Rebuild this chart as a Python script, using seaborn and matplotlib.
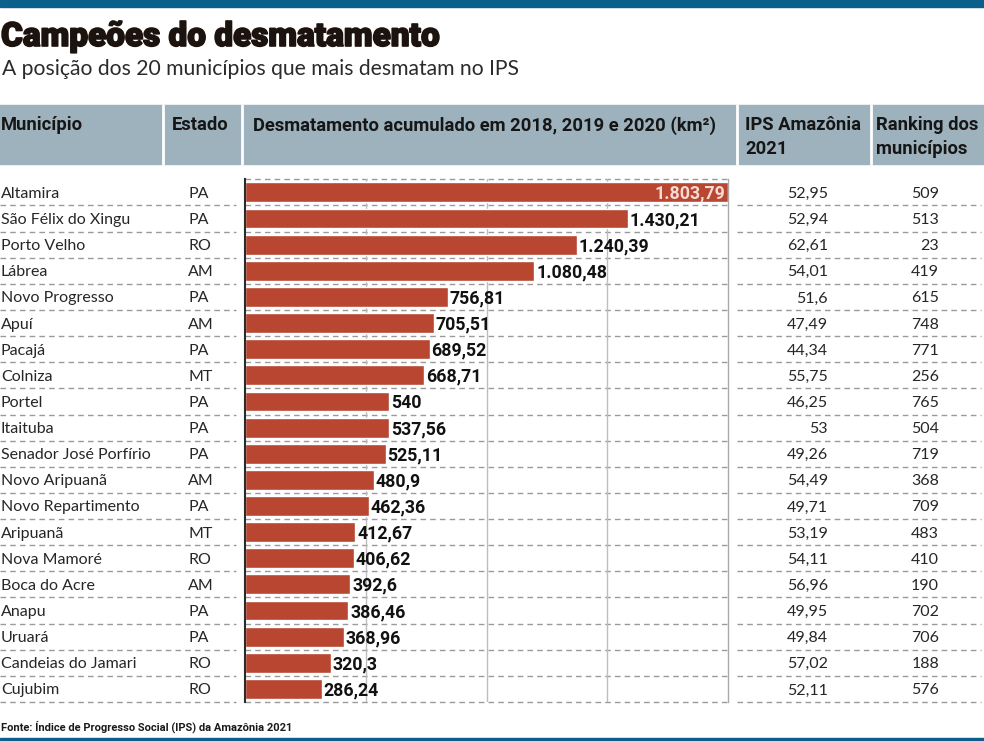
import matplotlib.pyplot as plt
import seaborn as sns
import pandas as pd
from matplotlib import font_manager
from matplotlib import patheffects
from matplotlib.patches import Rectangle

sns.set_style("white")

available = {f.name for f in font_manager.fontManager.ttflist}
light = "Lato" if "Lato" in available else "DejaVu Sans"
bold = "Roboto" if "Roboto" in available else "DejaVu Sans"

municipios = ["Altamira", "São Félix do Xingu", "Porto Velho", "Lábrea", "Novo Progresso",
              "Apuí", "Pacajá", "Colniza", "Portel", "Itaituba",
              "Senador José Porfírio", "Novo Aripuanã", "Novo Repartimento", "Aripuanã", "Nova Mamoré",
              "Boca do Acre", "Anapu", "Uruará", "Candeias do Jamari", "Cujubim"]
estados = ["PA", "PA", "RO", "AM", "PA", "AM", "PA", "MT", "PA", "PA",
           "PA", "AM", "PA", "MT", "RO", "AM", "PA", "PA", "RO", "RO"]
desmatamento = [1803.79, 1430.21, 1240.39, 1080.48, 756.81, 705.51, 689.52, 668.71, 540, 537.56,
                525.11, 480.9, 462.36, 412.67, 406.62, 392.6, 386.46, 368.96, 320.3, 286.24]
ips = [52.95, 52.94, 62.61, 54.01, 51.6, 47.49, 44.34, 55.75, 46.25, 53,
       49.26, 54.49, 49.71, 53.19, 54.11, 56.96, 49.95, 49.84, 57.02, 52.11]
ranking = [509, 513, 23, 419, 615, 748, 771, 256, 765, 504,
           719, 368, 709, 483, 410, 190, 702, 706, 188, 576]

headers = ["Município", "Estado", "Desmatamento acumulado em 2018, 2019 e 2020 (km²)",
           "IPS Amazônia\n2021", "Ranking dos\nmunicípios"]

df = pd.DataFrame({"municipio": municipios, "estado": estados, "desmatamento": desmatamento,
                   "ips": ips, "ranking": ranking})


def br(v):
    # brazilian number format: 1.803,79 / 480,9 / 540
    s = f"{v:,.2f}".rstrip("0").rstrip(".")
    return s.replace(",", "X").replace(".", ",").replace("X", ".")


W, H = 984, 741
fig = plt.figure(figsize=(W / 100, H / 100), dpi=100)

# background layer in pixel coordinates for the table parts
bg = fig.add_axes([0, 0, 1, 1])
bg.set_xlim(0, W)
bg.set_ylim(H, 0)
bg.axis("off")

blue = "#0b5f8b"
bg.add_patch(Rectangle((0, 0), W, 7, color=blue))
bg.add_patch(Rectangle((0, 738), W, 3, color=blue))

title_color = "#1c130e"
bg.text(1, 46, "Campeões do desmatamento", fontsize=24, fontweight="black",
        family=bold, color=title_color, va="baseline",
        path_effects=[patheffects.withStroke(linewidth=1.2, foreground=title_color)])
bg.text(2, 75, "A posição dos 20 municípios que mais desmatam no IPS", fontsize=15.2,
        family=light, color="#2b2b2b", va="baseline")

# header band
bg.add_patch(Rectangle((0, 105), W, 59, color="#9db2bc"))
for sx in [163, 242, 737, 871]:
    bg.plot([sx, sx], [105, 164], color="white", lw=2)
hx = [1, 172, 253, 745, 876]
for x, t in zip(hx, headers):
    bg.text(x, 116, t, fontsize=13.2, fontweight="bold", family=bold, color="#161616",
            va="top", linespacing=1.4)

# rows
top, bottom = 179.3, 702
step = (bottom - top) / len(df)
dash = dict(color="#9a9a9a", lw=1, ls=(0, (4, 3)))
bg.plot([245, 728], [top, top], **dash)
body = dict(fontsize=11.5, family=light, color="#262626", va="baseline")
for i, row in df.iterrows():
    yc = top + (i + 0.5) * step
    yb = top + (i + 1) * step
    for x0, x1 in [(0, 236), (737, 981)]:
        bg.plot([x0, x1], [yb, yb], **dash)
    bg.plot([245, 728], [yb, yb], **dash)
    bg.text(1, yc + 5.5, row["municipio"], **body)
    bg.text(188, yc + 5.5, row["estado"], **body)
    bg.text(828, yc + 5.5, br(row["ips"]), ha="right", **body)
    bg.text(939, yc + 5.5, str(row["ranking"]), ha="right", **body)

bg.text(1, 731, "Fonte: Índice de Progresso Social (IPS) da Amazônia 2021", fontsize=8,
        fontweight="bold", family=bold, color="#1a1a1a", va="baseline")

# bar chart
ax = fig.add_axes([245 / W, 1 - bottom / H, (728 - 245) / W, (bottom - top) / H])
ax.set_facecolor("none")
sns.barplot(data=df, x="desmatamento", y="municipio", orient="h", color="#b84631",
            saturation=1, width=0.76, ax=ax)

xmax = 1805
ax.set_xlim(0, xmax)
ax.set_ylim(len(df) - 0.5, -0.5)
ax.set_xticks([xmax / 4, xmax / 2, xmax * 3 / 4])
ax.grid(axis="x", color="#bdbdbd", lw=1)
ax.set_axisbelow(True)
ax.tick_params(length=0, labelbottom=False, labelleft=False)
ax.set(xlabel="", ylabel="")
for s in ["top", "bottom"]:
    ax.spines[s].set_visible(False)
ax.spines["left"].set_color("#2a2a2a")
ax.spines["left"].set_linewidth(1.5)
ax.spines["right"].set_color("#aaaaaa")
ax.spines["right"].set_linewidth(1)

for i, v in enumerate(df["desmatamento"]):
    if i == 0:
        ax.annotate(br(v), (v, i), xytext=(-2, -6.5), textcoords="offset pixels",
                    ha="right", va="baseline", fontsize=12.8, fontweight="bold",
                    family=bold, color="#f6dcd4")
    else:
        ax.annotate(br(v), (v, i), xytext=(2, -6.5), textcoords="offset pixels",
                    ha="left", va="baseline", fontsize=12.8, fontweight="bold",
                    family=bold, color="#111111")

plt.savefig("out.png", dpi=100)
